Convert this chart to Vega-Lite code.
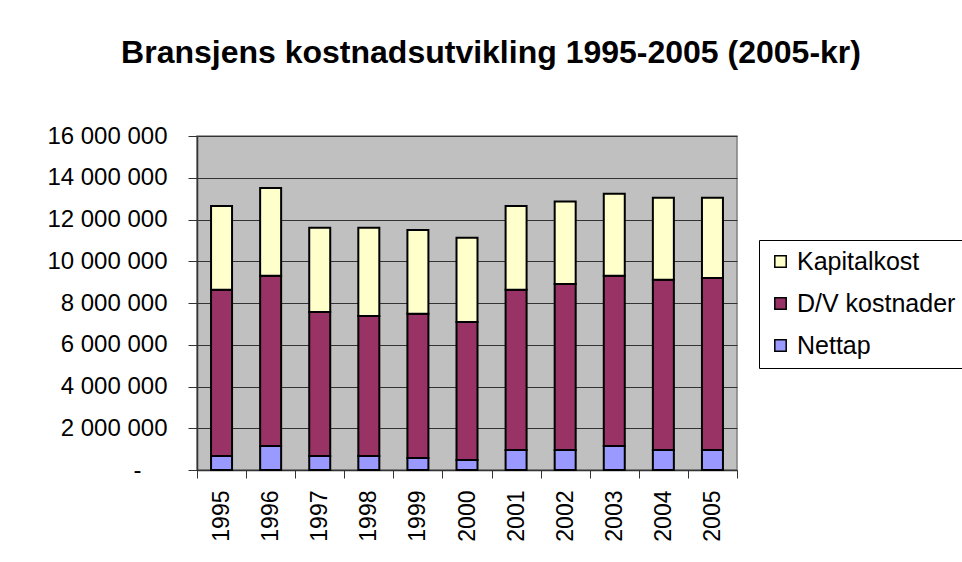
{
  "$schema": "https://vega.github.io/schema/vega-lite/v6.json",
  "autosize": {"type": "none"},
  "width": 540,
  "height": 334,
  "padding": {"left": 197, "top": 136, "right": 225, "bottom": 92},
  "background": "white",
  "title": {
    "text": "Bransjens kostnadsutvikling 1995-2005 (2005-kr)",
    "font": "Liberation Sans",
    "fontSize": 32,
    "fontWeight": "bold",
    "color": "black",
    "anchor": "middle",
    "baseline": "alphabetic",
    "offset": 29,
    "dx": 24
  },
  "data": {
    "values": [
      {"year": "1995", "serie": "Nettap", "value": 670000},
      {"year": "1995", "serie": "D/V kostnader", "value": 7960000},
      {"year": "1995", "serie": "Kapitalkost", "value": 4020000},
      {"year": "1996", "serie": "Nettap", "value": 1150000},
      {"year": "1996", "serie": "D/V kostnader", "value": 8150000},
      {"year": "1996", "serie": "Kapitalkost", "value": 4210000},
      {"year": "1997", "serie": "Nettap", "value": 670000},
      {"year": "1997", "serie": "D/V kostnader", "value": 6900000},
      {"year": "1997", "serie": "Kapitalkost", "value": 4030000},
      {"year": "1998", "serie": "Nettap", "value": 670000},
      {"year": "1998", "serie": "D/V kostnader", "value": 6710000},
      {"year": "1998", "serie": "Kapitalkost", "value": 4220000},
      {"year": "1999", "serie": "Nettap", "value": 580000},
      {"year": "1999", "serie": "D/V kostnader", "value": 6900000},
      {"year": "1999", "serie": "Kapitalkost", "value": 4020000},
      {"year": "2000", "serie": "Nettap", "value": 480000},
      {"year": "2000", "serie": "D/V kostnader", "value": 6610000},
      {"year": "2000", "serie": "Kapitalkost", "value": 4030000},
      {"year": "2001", "serie": "Nettap", "value": 960000},
      {"year": "2001", "serie": "D/V kostnader", "value": 7670000},
      {"year": "2001", "serie": "Kapitalkost", "value": 4020000},
      {"year": "2002", "serie": "Nettap", "value": 960000},
      {"year": "2002", "serie": "D/V kostnader", "value": 7950000},
      {"year": "2002", "serie": "Kapitalkost", "value": 3950000},
      {"year": "2003", "serie": "Nettap", "value": 1150000},
      {"year": "2003", "serie": "D/V kostnader", "value": 8150000},
      {"year": "2003", "serie": "Kapitalkost", "value": 3930000},
      {"year": "2004", "serie": "Nettap", "value": 960000},
      {"year": "2004", "serie": "D/V kostnader", "value": 8150000},
      {"year": "2004", "serie": "Kapitalkost", "value": 3930000},
      {"year": "2005", "serie": "Nettap", "value": 960000},
      {"year": "2005", "serie": "D/V kostnader", "value": 8240000},
      {"year": "2005", "serie": "Kapitalkost", "value": 3840000}
    ]
  },
  "transform": [
    {"calculate": "indexof(['Nettap','D/V kostnader','Kapitalkost'], datum.serie)", "as": "stackOrder"}
  ],
  "mark": {"type": "bar", "size": 21, "stroke": "black", "strokeWidth": 2},
  "encoding": {
    "x": {
      "field": "year",
      "type": "ordinal",
      "scale": {"paddingInner": 0, "paddingOuter": 0},
      "axis": {
        "title": null,
        "labelAngle": -90,
        "labelFont": "Liberation Sans",
        "labelFontSize": 23,
        "labelColor": "black",
        "labelPadding": 12,
        "tickBand": "extent",
        "tickSize": 8,
        "tickColor": "#333",
        "domainColor": "#333",
        "domainWidth": 1.5,
        "grid": false
      }
    },
    "y": {
      "field": "value",
      "type": "quantitative",
      "aggregate": "sum",
      "stack": "zero",
      "scale": {"domain": [0, 16000000], "nice": false},
      "axis": {
        "title": null,
        "values": [0, 2000000, 4000000, 6000000, 8000000, 10000000, 12000000, 14000000, 16000000],
        "labelExpr": "datum.value == 0 ? '-' : replace(replace(format(datum.value, ','), ',', ' '), ',', ' ')",
        "labelFont": "Liberation Sans",
        "labelFontSize": 24,
        "labelColor": "black",
        "labelPadding": {"condition": {"test": "datum.value == 0", "value": 47}, "value": 21},
        "tickSize": 9,
        "tickColor": "#333",
        "domainColor": "#333",
        "domainWidth": 1.5,
        "grid": true,
        "gridColor": "#333",
        "gridWidth": 1,
        "gridOpacity": 1
      }
    },
    "color": {
      "field": "serie",
      "type": "nominal",
      "scale": {
        "domain": ["Kapitalkost", "D/V kostnader", "Nettap"],
        "range": ["#FFFFCC", "#993366", "#9999FF"]
      },
      "legend": {
        "title": null,
        "orient": "none",
        "legendX": 562,
        "legendY": 104,
        "direction": "vertical",
        "fillColor": "white",
        "strokeColor": "black",
        "padding": 9,
        "symbolType": "square",
        "symbolSize": 130,
        "symbolStrokeColor": "black",
        "symbolStrokeWidth": 1.5,
        "symbolOpacity": 1,
        "labelFont": "Liberation Sans",
        "labelFontSize": 25,
        "labelColor": "black",
        "labelOffset": 4,
        "labelLimit": 400,
        "rowPadding": 16
      }
    },
    "order": {"field": "stackOrder", "type": "quantitative"}
  },
  "config": {
    "view": {"fill": "#C0C0C0", "stroke": "#808080", "strokeWidth": 1.5}
  }
}
